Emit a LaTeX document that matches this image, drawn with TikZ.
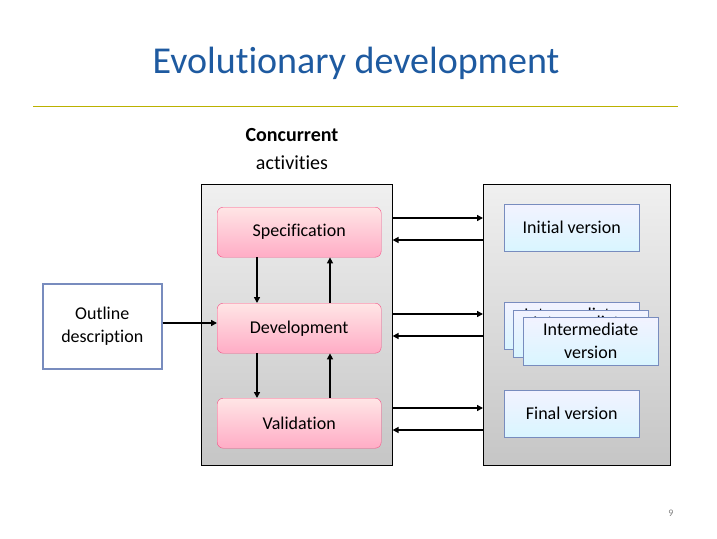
\documentclass[tikz,border=0pt]{standalone}
\usepackage{fontspec}
\setmainfont{Carlito}[Ligatures=NoCommon]
\usetikzlibrary{arrows.meta}
\definecolor{titleblue}{RGB}{30,90,160}
\definecolor{obord}{RGB}{120,140,190}
\tikzset{
 panel/.style={draw=black,line width=0.6pt,top color=gray!12,bottom color=gray!45,minimum width=191pt,minimum height=281pt,anchor=north west,inner sep=0},
 act/.style={draw=magenta!60!red!70,rounded corners=6pt,top color=pink!40,bottom color=pink!90!magenta,minimum width=164pt,minimum height=50pt,font=\fontsize{18}{21}\selectfont,anchor=north west},
 ver/.style={draw=obord,top color=blue!5,bottom color=blue!25!cyan!15,minimum width=135pt,minimum height=47pt,inner sep=1pt,font=\fontsize{18}{23}\selectfont,align=center,anchor=north west},
 conn/.style={-{Triangle[length=6pt,width=6pt]},line width=2pt}
}
\begin{document}
\begin{tikzpicture}[x=1pt,y=-1pt]
\useasboundingbox (0,0) rectangle (717,538);
\node[font=\fontsize{38}{42}\selectfont,text=titleblue] (title) at (356,63) {Evolutionary development};
\draw[draw=olive!60!yellow,line width=0.6pt] (33,106) -- (678,106);
\node[font=\fontsize{20}{28}\selectfont,align=center] (conc) at (292,149) {\textbf{Concurrent}\\activities};
\node[panel] (lp) at (201,184) {};
\node[panel,minimum width=187pt] (rp) at (483,184) {};
\node[act] (spec) at (217,207) {Specification};
\node[act] (dev) at (217,303) {Development};
\node[act] (val) at (217,398) {Validation};
\node[draw=obord,line width=1.5pt,fill=white,minimum width=119pt,minimum height=85pt,align=center,font=\fontsize{18}{23}\selectfont,anchor=north west] (out) at (42,283) {Outline\\description};
\node[ver] (init) at (504,204) {Initial version};
\node[ver] (im1) at (504,302) {Intermediate\\version};
\node[ver] (im2) at (513,310) {Intermediate\\version};
\node[ver,minimum height=48pt] (im3) at (523,317) {Intermediate\\version};
\node[ver] (fin) at (504,390) {Final version};
\node[font=\fontsize{10}{12}\selectfont,text=gray] (pg) at (671,513) {9};
\draw[conn] (out.east |- 0,323) -- (dev.west |- 0,323);
\draw[conn] (spec.south -| 257,0) -- (dev.north -| 257,0);
\draw[conn] (dev.north -| 330,0) -- (spec.south -| 330,0);
\draw[conn] (dev.south -| 257,0) -- (val.north -| 257,0);
\draw[conn] (val.north -| 330,0) -- (dev.south -| 330,0);
\foreach \y in {218,314,408}{\draw[conn] (lp.east |- 0,\y) -- (rp.west |- 0,\y);}
\foreach \y in {240,336,430}{\draw[conn] (rp.west |- 0,\y) -- (lp.east |- 0,\y);}
\end{tikzpicture}
\end{document}
